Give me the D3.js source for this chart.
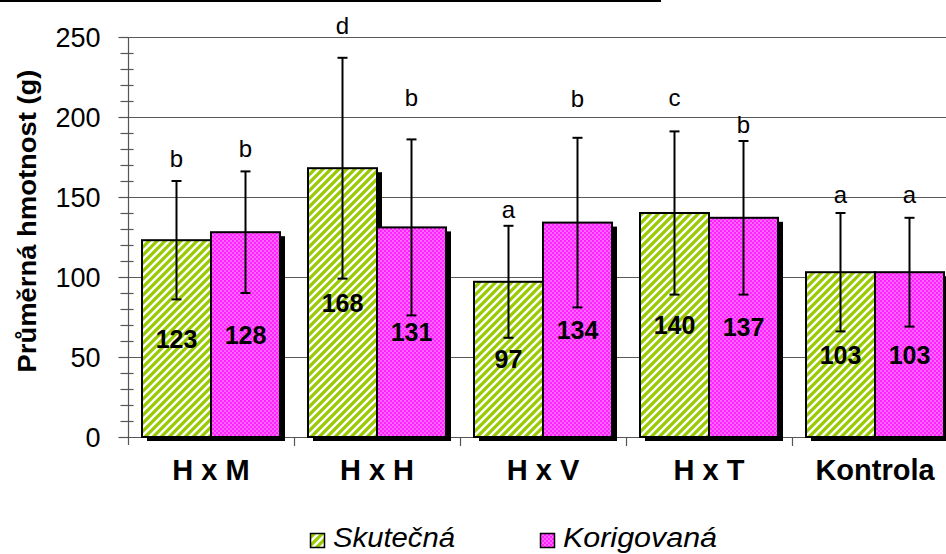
<!DOCTYPE html>
<html>
<head>
<meta charset="utf-8">
<script src="https://cdn.jsdelivr.net/npm/d3@7"></script>
<style>
  html, body { margin: 0; padding: 0; background: #fff; }
  svg text { font-family: Arial, "Liberation Sans", Helvetica, sans-serif; }
</style>
</head>
<body>
<svg id="chart" width="946" height="554"></svg>
<script>
// Průměrná hmotnost podle kombinace
const categories = ["H x M", "H x H", "H x V", "H x T", "Kontrola"];
const seriesNames = ["Skutečná", "Korigovaná"];
const skutecna = [123, 168, 97, 140, 103];
const korigovana = [128, 131, 134, 137, 103];
const skutecnaErr = [37, 69, 35, 51, 37];
const korigovanaErr = [38, 55, 53, 48, 34];
// significance letters and the level (g) of their baseline
const skutecnaLetters = ["b", "d", "a", "c", "a"];
const korigovanaLetters = ["b", "b", "b", "b", "a"];
const skutecnaLetterAt = [169, 252, 137, 207, 146];
const korigovanaLetterAt = [175, 207, 206, 190, 146];
const yTicks = [0, 50, 100, 150, 200, 250];

const series = [
  { name: seriesNames[0], values: skutecna, err: skutecnaErr, letters: skutecnaLetters, letterAt: skutecnaLetterAt, fill: "url(#stripes)", legendWidth: 122 },
  { name: seriesNames[1], values: korigovana, err: korigovanaErr, letters: korigovanaLetters, letterAt: korigovanaLetterAt, fill: "url(#checker)", legendWidth: 154 }
];

const svg = d3.select("#chart");
const defs = svg.append("defs");

// green upward-diagonal stripes
const stripes = defs.append("pattern").attr("id", "stripes")
  .attr("patternUnits", "userSpaceOnUse").attr("width", 8).attr("height", 8);
stripes.append("rect").attr("width", 8).attr("height", 8).attr("fill", "#fff");
stripes.append("path").attr("d", "M-2,2 L2,-2 M0,8 L8,0 M6,10 L10,6")
  .attr("stroke", "#99cc00").attr("stroke-width", 3.2);

// magenta checker
const checker = defs.append("pattern").attr("id", "checker")
  .attr("patternUnits", "userSpaceOnUse").attr("width", 4).attr("height", 4);
checker.append("rect").attr("width", 4).attr("height", 4).attr("fill", "#ff22ff");
checker.append("rect").attr("x", 0).attr("y", 0).attr("width", 2).attr("height", 2).attr("fill", "#ff66ff");
checker.append("rect").attr("x", 2).attr("y", 2).attr("width", 2).attr("height", 2).attr("fill", "#ff66ff");

const y = d3.scaleLinear().domain([0, 250]).range([437, 37]);
const x0 = d3.scaleBand().domain(categories).range([128, 958])
  .paddingInner(28 / 166).paddingOuter(14 / 166);
const x1 = d3.scaleBand().domain(seriesNames).range([0, x0.bandwidth()]);

// cut-off underline at the very top
svg.append("line").attr("x1", 0).attr("x2", 661).attr("y1", 1).attr("y2", 1)
  .attr("stroke", "#000").attr("stroke-width", 2);

// gridlines
svg.append("g").selectAll("line").data(yTicks.filter(d => d > 0)).join("line")
  .attr("x1", 128).attr("x2", 946)
  .attr("y1", d => y(d) + 0.5).attr("y2", d => y(d) + 0.5)
  .attr("stroke", "#5a5a5a").attr("stroke-width", 1.2);

// y axis with minor ticks
const yAxis = svg.append("g").attr("transform", "translate(128.5,0)");
yAxis.append("line").attr("y1", y(250)).attr("y2", y(0) + 8).attr("stroke", "#555").attr("stroke-width", 1.2);
yAxis.selectAll(".minor").data(d3.range(0, 251, 10).filter(d => d % 50 !== 0)).join("line")
  .attr("x1", -8).attr("x2", 5).attr("y1", d => y(d) + 0.5).attr("y2", d => y(d) + 0.5)
  .attr("stroke", "#555").attr("stroke-width", 1.2);
yAxis.selectAll(".major").data(yTicks).join("line")
  .attr("x1", -10).attr("x2", 0).attr("y1", d => y(d) + 0.5).attr("y2", d => y(d) + 0.5)
  .attr("stroke", "#555").attr("stroke-width", 1.2);
yAxis.selectAll("text").data(yTicks).join("text")
  .attr("x", -28).attr("y", d => y(d)).attr("dy", "0.36em")
  .attr("text-anchor", "end").attr("font-size", 27).attr("fill", "#000")
  .text(d => d);

// y title
svg.append("text")
  .attr("transform", "translate(36,221) rotate(-90)")
  .attr("text-anchor", "middle").attr("font-size", 25).attr("font-weight", "bold")
  .attr("textLength", 303).attr("lengthAdjust", "spacingAndGlyphs")
  .text("Průměrná hmotnost (g)");

// x axis
svg.append("line").attr("x1", 128).attr("x2", 946).attr("y1", y(0) + 0.5).attr("y2", y(0) + 0.5)
  .attr("stroke", "#555").attr("stroke-width", 1.2);
svg.append("g").selectAll("line").data(categories.slice(1)).join("line")
  .attr("x1", d => x0(d) - 14 + 0.5).attr("x2", d => x0(d) - 14 + 0.5)
  .attr("y1", y(0)).attr("y2", y(0) + 9)
  .attr("stroke", "#555").attr("stroke-width", 1.2);

svg.append("g").selectAll("text").data(categories).join("text")
  .attr("x", d => x0(d) + x0.bandwidth() / 2).attr("y", 480)
  .attr("text-anchor", "middle").attr("font-size", 29).attr("font-weight", "bold")
  .text(d => d);

// bars
const groups = svg.append("g").selectAll("g").data(categories).join("g")
  .attr("transform", d => `translate(${x0(d)},0)`);

const cells = (c, i) => series.map(s => ({ s, c, i, v: s.values[i], e: s.err[i] }));

// shadows first
groups.selectAll(".shadow").data(cells).join("rect").attr("class", "shadow")
  .attr("x", d => x1(d.s.name) + 5).attr("y", d => y(d.v) + 4)
  .attr("width", x1.bandwidth()).attr("height", d => y(0) - y(d.v))
  .attr("fill", "#000");

groups.selectAll(".bar").data(cells).join("rect").attr("class", "bar")
  .attr("x", d => x1(d.s.name)).attr("y", d => y(d.v))
  .attr("width", x1.bandwidth()).attr("height", d => y(0) - y(d.v))
  .attr("fill", d => d.s.fill).attr("stroke", "#000").attr("stroke-width", 2);

// value labels in the middle of each bar
groups.selectAll(".val").data(cells).join("text").attr("class", "val")
  .attr("x", d => x1(d.s.name) + x1.bandwidth() / 2).attr("y", d => y(d.v / 2))
  .attr("dy", "0.36em").attr("text-anchor", "middle")
  .attr("font-size", 25).attr("font-weight", "bold").attr("fill", "#000")
  .text(d => d.v);

// error bars
const eb = groups.selectAll(".err").data(cells).join("g").attr("class", "err")
  .attr("transform", d => `translate(${x1(d.s.name) + x1.bandwidth() / 2},0)`)
  .attr("stroke", "#000").attr("stroke-width", 2);
eb.append("line").attr("y1", d => y(d.v + d.e)).attr("y2", d => y(d.v - d.e));
eb.append("line").attr("x1", -5).attr("x2", 5).attr("y1", d => y(d.v + d.e)).attr("y2", d => y(d.v + d.e));
eb.append("line").attr("x1", -5).attr("x2", 5).attr("y1", d => y(d.v - d.e)).attr("y2", d => y(d.v - d.e));

// significance letters
groups.selectAll(".let").data(cells).join("text").attr("class", "let")
  .attr("x", d => x1(d.s.name) + x1.bandwidth() / 2)
  .attr("y", d => y(d.s.letterAt[d.i]))
  .attr("text-anchor", "middle").attr("font-size", 24).attr("fill", "#000")
  .text(d => d.s.letters[d.i]);

// legend
const legend = svg.append("g");
const legendX = [310, 540];
series.forEach((s, k) => {
  legend.append("rect").attr("x", legendX[k] + 0.5).attr("y", 533.5).attr("width", 14).attr("height", 14)
    .attr("fill", s.fill).attr("stroke", "#000").attr("stroke-width", 1.5);
  legend.append("text").attr("x", legendX[k] + 23).attr("y", 547)
    .attr("font-size", 27).attr("font-style", "italic")
    .attr("textLength", s.legendWidth).attr("lengthAdjust", "spacingAndGlyphs")
    .text(s.name);
});
</script>
</body>
</html>
